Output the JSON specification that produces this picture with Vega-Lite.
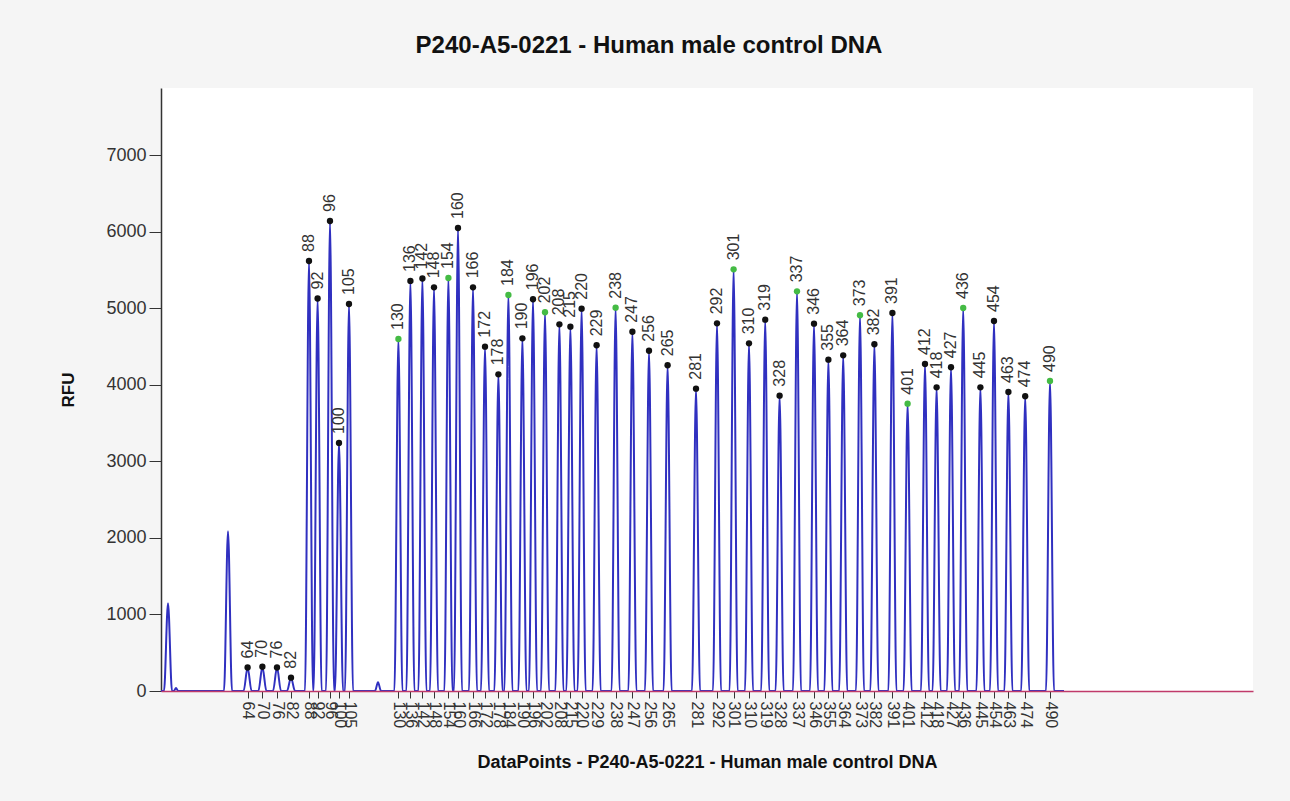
{
  "$schema": "https://vega.github.io/schema/vega-lite/v6.json",
  "width": 1092,
  "height": 603,
  "autosize": {"type": "none"},
  "padding": {"left": 161, "top": 88, "right": 37, "bottom": 110},
  "background": "#f5f5f5",
  "title": {
    "text": "P240-A5-0221 - Human male control DNA",
    "font": "Liberation Sans",
    "fontSize": 24,
    "fontWeight": "bold",
    "color": "#111111",
    "anchor": "middle",
    "frame": "group",
    "dx": -58,
    "offset": 30
  },
  "config": {
    "view": {"stroke": null, "fill": "#ffffff"},
    "font": "Liberation Sans",
    "axis": {"labelOverlap": false},
    "axisX": {"labelOverlap": false, "labelFlush": false}
  },
  "datasets": {
    "trace": [
      {"dp": 805, "rfu": 0}, {"dp": 820, "rfu": 0}, {"dp": 840, "rfu": 1145}, {"dp": 860, "rfu": 0},
      {"dp": 870, "rfu": 0}, {"dp": 880, "rfu": 40}, {"dp": 890, "rfu": 0},
      {"dp": 1120, "rfu": 0}, {"dp": 1140, "rfu": 2085}, {"dp": 1160, "rfu": 0},
      {"dp": 1218, "rfu": 0}, {"dp": 1238, "rfu": 307}, {"dp": 1258, "rfu": 0},
      {"dp": 1292, "rfu": 0}, {"dp": 1312, "rfu": 317}, {"dp": 1332, "rfu": 0},
      {"dp": 1365, "rfu": 0}, {"dp": 1385, "rfu": 307}, {"dp": 1405, "rfu": 0},
      {"dp": 1435, "rfu": 0}, {"dp": 1455, "rfu": 174}, {"dp": 1475, "rfu": 0},
      {"dp": 1525, "rfu": 0}, {"dp": 1545, "rfu": 5616}, {"dp": 1565, "rfu": 0},
      {"dp": 1568, "rfu": 0}, {"dp": 1588, "rfu": 5126}, {"dp": 1608, "rfu": 0},
      {"dp": 1630, "rfu": 0}, {"dp": 1650, "rfu": 6138}, {"dp": 1670, "rfu": 0},
      {"dp": 1675, "rfu": 0}, {"dp": 1695, "rfu": 3239}, {"dp": 1715, "rfu": 0},
      {"dp": 1725, "rfu": 0}, {"dp": 1745, "rfu": 5054}, {"dp": 1765, "rfu": 0},
      {"dp": 1875, "rfu": 0}, {"dp": 1890, "rfu": 115}, {"dp": 1905, "rfu": 0},
      {"dp": 1972, "rfu": 0}, {"dp": 1992, "rfu": 4597}, {"dp": 2012, "rfu": 0},
      {"dp": 2032, "rfu": 0}, {"dp": 2052, "rfu": 5355}, {"dp": 2072, "rfu": 0},
      {"dp": 2092, "rfu": 0}, {"dp": 2112, "rfu": 5387}, {"dp": 2132, "rfu": 0},
      {"dp": 2150, "rfu": 0}, {"dp": 2170, "rfu": 5272}, {"dp": 2190, "rfu": 0},
      {"dp": 2222, "rfu": 0}, {"dp": 2242, "rfu": 5394}, {"dp": 2262, "rfu": 0},
      {"dp": 2270, "rfu": 0}, {"dp": 2290, "rfu": 6047}, {"dp": 2310, "rfu": 0},
      {"dp": 2345, "rfu": 0}, {"dp": 2365, "rfu": 5272}, {"dp": 2385, "rfu": 0},
      {"dp": 2405, "rfu": 0}, {"dp": 2425, "rfu": 4497}, {"dp": 2445, "rfu": 0},
      {"dp": 2472, "rfu": 0}, {"dp": 2492, "rfu": 4136}, {"dp": 2512, "rfu": 0},
      {"dp": 2522, "rfu": 0}, {"dp": 2542, "rfu": 5172}, {"dp": 2562, "rfu": 0},
      {"dp": 2592, "rfu": 0}, {"dp": 2612, "rfu": 4606}, {"dp": 2632, "rfu": 0},
      {"dp": 2645, "rfu": 0}, {"dp": 2665, "rfu": 5116}, {"dp": 2685, "rfu": 0},
      {"dp": 2705, "rfu": 0}, {"dp": 2725, "rfu": 4946}, {"dp": 2745, "rfu": 0},
      {"dp": 2777, "rfu": 0}, {"dp": 2797, "rfu": 4789}, {"dp": 2817, "rfu": 0},
      {"dp": 2832, "rfu": 0}, {"dp": 2852, "rfu": 4758}, {"dp": 2872, "rfu": 0},
      {"dp": 2888, "rfu": 0}, {"dp": 2908, "rfu": 4993}, {"dp": 2928, "rfu": 0},
      {"dp": 2963, "rfu": 0}, {"dp": 2983, "rfu": 4515}, {"dp": 3003, "rfu": 0},
      {"dp": 3058, "rfu": 0}, {"dp": 3078, "rfu": 5006}, {"dp": 3098, "rfu": 0},
      {"dp": 3142, "rfu": 0}, {"dp": 3162, "rfu": 4692}, {"dp": 3182, "rfu": 0},
      {"dp": 3225, "rfu": 0}, {"dp": 3245, "rfu": 4444}, {"dp": 3265, "rfu": 0},
      {"dp": 3318, "rfu": 0}, {"dp": 3338, "rfu": 4254}, {"dp": 3358, "rfu": 0},
      {"dp": 3460, "rfu": 0}, {"dp": 3480, "rfu": 3948}, {"dp": 3500, "rfu": 0},
      {"dp": 3565, "rfu": 0}, {"dp": 3585, "rfu": 4802}, {"dp": 3605, "rfu": 0},
      {"dp": 3648, "rfu": 0}, {"dp": 3668, "rfu": 5507}, {"dp": 3688, "rfu": 0},
      {"dp": 3725, "rfu": 0}, {"dp": 3745, "rfu": 4541}, {"dp": 3765, "rfu": 0},
      {"dp": 3806, "rfu": 0}, {"dp": 3826, "rfu": 4849}, {"dp": 3846, "rfu": 0},
      {"dp": 3878, "rfu": 0}, {"dp": 3898, "rfu": 3857}, {"dp": 3918, "rfu": 0},
      {"dp": 3965, "rfu": 0}, {"dp": 3985, "rfu": 5220}, {"dp": 4005, "rfu": 0},
      {"dp": 4050, "rfu": 0}, {"dp": 4070, "rfu": 4797}, {"dp": 4090, "rfu": 0},
      {"dp": 4122, "rfu": 0}, {"dp": 4142, "rfu": 4327}, {"dp": 4162, "rfu": 0},
      {"dp": 4196, "rfu": 0}, {"dp": 4216, "rfu": 4384}, {"dp": 4236, "rfu": 0},
      {"dp": 4280, "rfu": 0}, {"dp": 4300, "rfu": 4907}, {"dp": 4320, "rfu": 0},
      {"dp": 4352, "rfu": 0}, {"dp": 4372, "rfu": 4528}, {"dp": 4392, "rfu": 0},
      {"dp": 4442, "rfu": 0}, {"dp": 4462, "rfu": 4937}, {"dp": 4482, "rfu": 0},
      {"dp": 4518, "rfu": 0}, {"dp": 4538, "rfu": 3752}, {"dp": 4558, "rfu": 0},
      {"dp": 4605, "rfu": 0}, {"dp": 4625, "rfu": 4271}, {"dp": 4645, "rfu": 0},
      {"dp": 4663, "rfu": 0}, {"dp": 4683, "rfu": 3966}, {"dp": 4703, "rfu": 0},
      {"dp": 4735, "rfu": 0}, {"dp": 4755, "rfu": 4228}, {"dp": 4775, "rfu": 0},
      {"dp": 4796, "rfu": 0}, {"dp": 4816, "rfu": 5002}, {"dp": 4836, "rfu": 0},
      {"dp": 4882, "rfu": 0}, {"dp": 4902, "rfu": 3966}, {"dp": 4922, "rfu": 0},
      {"dp": 4950, "rfu": 0}, {"dp": 4970, "rfu": 4832}, {"dp": 4990, "rfu": 0},
      {"dp": 5022, "rfu": 0}, {"dp": 5042, "rfu": 3905}, {"dp": 5062, "rfu": 0},
      {"dp": 5106, "rfu": 0}, {"dp": 5126, "rfu": 3849}, {"dp": 5146, "rfu": 0},
      {"dp": 5230, "rfu": 0}, {"dp": 5250, "rfu": 4049}, {"dp": 5270, "rfu": 0},
      {"dp": 5320, "rfu": 0}
    ],
    "peaks": [
      {"dp": 1238, "rfu": 307, "size": "64", "kind": "called"},
      {"dp": 1312, "rfu": 317, "size": "70", "kind": "called"},
      {"dp": 1385, "rfu": 307, "size": "76", "kind": "called"},
      {"dp": 1455, "rfu": 174, "size": "82", "kind": "called"},
      {"dp": 1545, "rfu": 5616, "size": "88", "kind": "called"},
      {"dp": 1588, "rfu": 5126, "size": "92", "kind": "called"},
      {"dp": 1650, "rfu": 6138, "size": "96", "kind": "called"},
      {"dp": 1695, "rfu": 3239, "size": "100", "kind": "called"},
      {"dp": 1745, "rfu": 5054, "size": "105", "kind": "called"},
      {"dp": 1992, "rfu": 4597, "size": "130", "kind": "reference"},
      {"dp": 2052, "rfu": 5355, "size": "136", "kind": "called"},
      {"dp": 2112, "rfu": 5387, "size": "142", "kind": "called"},
      {"dp": 2170, "rfu": 5272, "size": "148", "kind": "called"},
      {"dp": 2242, "rfu": 5394, "size": "154", "kind": "reference"},
      {"dp": 2290, "rfu": 6047, "size": "160", "kind": "called"},
      {"dp": 2365, "rfu": 5272, "size": "166", "kind": "called"},
      {"dp": 2425, "rfu": 4497, "size": "172", "kind": "called"},
      {"dp": 2492, "rfu": 4136, "size": "178", "kind": "called"},
      {"dp": 2542, "rfu": 5172, "size": "184", "kind": "reference"},
      {"dp": 2612, "rfu": 4606, "size": "190", "kind": "called"},
      {"dp": 2665, "rfu": 5116, "size": "196", "kind": "called"},
      {"dp": 2725, "rfu": 4946, "size": "202", "kind": "reference"},
      {"dp": 2797, "rfu": 4789, "size": "208", "kind": "called"},
      {"dp": 2852, "rfu": 4758, "size": "215", "kind": "called"},
      {"dp": 2908, "rfu": 4993, "size": "220", "kind": "called"},
      {"dp": 2983, "rfu": 4515, "size": "229", "kind": "called"},
      {"dp": 3078, "rfu": 5006, "size": "238", "kind": "reference"},
      {"dp": 3162, "rfu": 4692, "size": "247", "kind": "called"},
      {"dp": 3245, "rfu": 4444, "size": "256", "kind": "called"},
      {"dp": 3338, "rfu": 4254, "size": "265", "kind": "called"},
      {"dp": 3480, "rfu": 3948, "size": "281", "kind": "called"},
      {"dp": 3585, "rfu": 4802, "size": "292", "kind": "called"},
      {"dp": 3668, "rfu": 5507, "size": "301", "kind": "reference"},
      {"dp": 3745, "rfu": 4541, "size": "310", "kind": "called"},
      {"dp": 3826, "rfu": 4849, "size": "319", "kind": "called"},
      {"dp": 3898, "rfu": 3857, "size": "328", "kind": "called"},
      {"dp": 3985, "rfu": 5220, "size": "337", "kind": "reference"},
      {"dp": 4070, "rfu": 4797, "size": "346", "kind": "called"},
      {"dp": 4142, "rfu": 4327, "size": "355", "kind": "called"},
      {"dp": 4216, "rfu": 4384, "size": "364", "kind": "called"},
      {"dp": 4300, "rfu": 4907, "size": "373", "kind": "reference"},
      {"dp": 4372, "rfu": 4528, "size": "382", "kind": "called"},
      {"dp": 4462, "rfu": 4937, "size": "391", "kind": "called"},
      {"dp": 4538, "rfu": 3752, "size": "401", "kind": "reference"},
      {"dp": 4625, "rfu": 4271, "size": "412", "kind": "called"},
      {"dp": 4683, "rfu": 3966, "size": "418", "kind": "called"},
      {"dp": 4755, "rfu": 4228, "size": "427", "kind": "called"},
      {"dp": 4816, "rfu": 5002, "size": "436", "kind": "reference"},
      {"dp": 4902, "rfu": 3966, "size": "445", "kind": "called"},
      {"dp": 4970, "rfu": 4832, "size": "454", "kind": "called"},
      {"dp": 5042, "rfu": 3905, "size": "463", "kind": "called"},
      {"dp": 5126, "rfu": 3849, "size": "474", "kind": "called"},
      {"dp": 5250, "rfu": 4049, "size": "490", "kind": "reference"}
    ]
  },
  "layer": [
    {
      "data": {"name": "trace"},
      "mark": {"type": "line", "interpolate": "monotone", "color": "#3030c0", "strokeWidth": 2},
      "encoding": {
        "x": {
          "field": "dp", "type": "quantitative",
          "scale": {"domain": [805, 6265], "nice": false, "zero": false},
          "axis": {
            "title": "DataPoints - P240-A5-0221 - Human male control DNA",
            "titleFontSize": 18, "titleFontWeight": "bold", "titleColor": "#111111",
            "titleY": 62, "titleBaseline": "top",
            "tickCount": 200,
            "values": [1238,1312,1385,1455,1545,1588,1650,1695,1745,1992,2052,2112,2170,2242,2290,2365,2425,2492,2542,2612,2665,2725,2797,2852,2908,2983,3078,3162,3245,3338,3480,3585,3668,3745,3826,3898,3985,4070,4142,4216,4300,4372,4462,4538,4625,4683,4755,4816,4902,4970,5042,5126,5250],
            "labelExpr": "['64','70','76','82','88','92','96','100','105','130','136','142','148','154','160','166','172','178','184','190','196','202','208','215','220','229','238','247','256','265','281','292','301','310','319','328','337','346','355','364','373','382','391','401','412','418','427','436','445','454','463','474','490'][indexof([1238,1312,1385,1455,1545,1588,1650,1695,1745,1992,2052,2112,2170,2242,2290,2365,2425,2492,2542,2612,2665,2725,2797,2852,2908,2983,3078,3162,3245,3338,3480,3585,3668,3745,3826,3898,3985,4070,4142,4216,4300,4372,4462,4538,4625,4683,4755,4816,4902,4970,5042,5126,5250], datum.value)]",
            "labelAngle": 90, "labelFontSize": 16, "labelColor": "#333333",
            "labelPadding": 3, "labelOverlap": false, "labelFlush": false,
            "tickSize": 7, "tickColor": "#333333", "tickWidth": 1,
            "domainColor": "#c03a6a", "domainWidth": 1.5,
            "grid": false, "zindex": 1
          }
        },
        "y": {
          "field": "rfu", "type": "quantitative",
          "scale": {"domain": [0, 7875], "nice": false},
          "axis": {
            "title": "RFU", "titleFontSize": 17, "titleFontWeight": "bold", "titleColor": "#111111",
            "titlePadding": 28, "format": "d",
            "values": [0, 1000, 2000, 3000, 4000, 5000, 6000, 7000],
            "labelFontSize": 18, "labelColor": "#333333", "labelPadding": 3,
            "tickSize": 12, "tickColor": "#333333",
            "domainColor": "#333333", "domainWidth": 1.5,
            "grid": false
          }
        }
      }
    },
    {
      "data": {"name": "peaks"},
      "mark": {"type": "circle", "size": 40, "opacity": 1},
      "encoding": {
        "x": {"field": "dp", "type": "quantitative"},
        "y": {"field": "rfu", "type": "quantitative"},
        "color": {
          "field": "kind", "type": "nominal",
          "scale": {"domain": ["called", "reference"], "range": ["#111111", "#44bb44"]},
          "legend": null
        }
      }
    },
    {
      "data": {"name": "peaks"},
      "mark": {"type": "text", "angle": 270, "align": "left", "baseline": "middle", "dx": 9, "fontSize": 16, "color": "#333333"},
      "encoding": {
        "x": {"field": "dp", "type": "quantitative"},
        "y": {"field": "rfu", "type": "quantitative"},
        "text": {"field": "size", "type": "nominal"}
      }
    }
  ]
}
